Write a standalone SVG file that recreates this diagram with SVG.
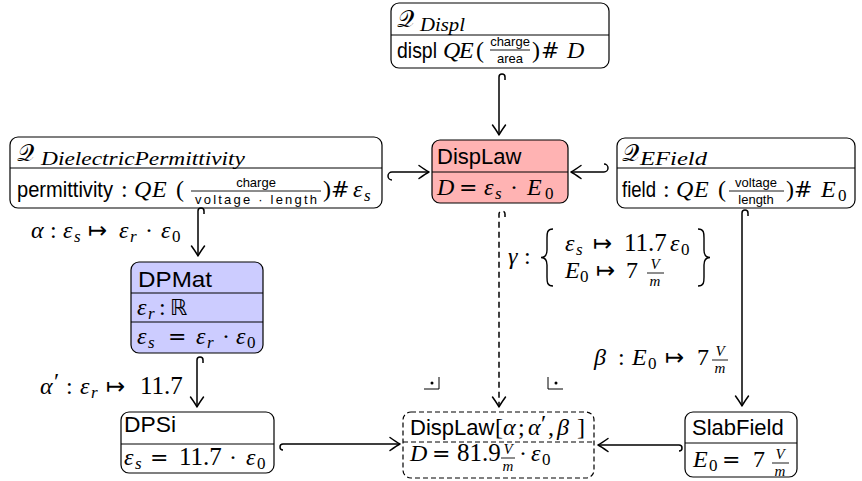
<svg xmlns="http://www.w3.org/2000/svg" width="862" height="481" viewBox="0 0 862 481">
<style>
.bx{fill:#fff;stroke:#000;stroke-width:1.2}
.dv{stroke:#000;stroke-width:1}
.sf{font-family:"Liberation Sans",Arial,sans-serif;font-size:22px}
.fr{font-family:"Liberation Sans",Arial,sans-serif;font-size:13px;text-anchor:middle}
.mi{font-family:"Liberation Serif","Times New Roman",serif;font-style:italic;font-size:24px}
.mr{font-family:"Liberation Serif","Times New Roman",serif;font-size:24px}
.nm{font-family:"Liberation Serif","Times New Roman",serif;font-size:25px}
.si{font-family:"Liberation Serif",serif;font-style:italic;font-size:17px}
.st{font-family:"Liberation Serif",serif;font-style:italic;font-size:18px}
.sr{font-family:"Liberation Serif",serif;font-size:17px}
.fi{font-family:"Liberation Serif",serif;font-style:italic;font-size:15px;text-anchor:middle}
.op{font-family:"DejaVu Sans",sans-serif;font-size:22px}
.mt{font-family:"DejaVu Sans",sans-serif;font-size:23px}
.cal{font-family:"DejaVu Serif","DejaVu Sans","Noto Sans",serif;font-size:24px}
.e{fill:none;stroke:#000;stroke-width:1.5}
.fb{stroke:#000;stroke-width:0.9}
.br{fill:none;stroke:#000;stroke-width:1.4}
</style>
<defs>
<marker id="ah" markerUnits="userSpaceOnUse" markerWidth="16" markerHeight="16" viewBox="-13 -8 16 16" refX="0" refY="0" orient="auto">
<path d="M-10,-6.5 Q-3,-1.5 0,0 Q-3,1.5 -10,6.5" fill="none" stroke="#000" stroke-width="1.5" stroke-linecap="round" stroke-linejoin="round"/>
</marker>
</defs>

<g id="qdispl">
<rect class="bx" x="391" y="3" width="218" height="65" rx="8"/>
<line class="dv" x1="391" y1="35" x2="609" y2="35"/>
<text class="cal" x="397" y="27">𝒬</text>
<text class="st" x="420" y="31" textLength="45" lengthAdjust="spacingAndGlyphs">Displ</text>
<text class="sf" x="397" y="58" textLength="40" lengthAdjust="spacingAndGlyphs">displ</text>
<text class="mi" x="443" y="58">Q</text>
<text class="mi" x="459" y="58">E</text>
<text class="mr" x="476" y="58">(</text>
<text class="fr" x="510" y="46">charge</text>
<line class="fb" x1="490" y1="50" x2="530" y2="50"/>
<text class="fr" x="510" y="63">area</text>
<text class="mr" x="532" y="58">)</text>
<text class="op" x="541" y="58">#</text>
<text class="mi" x="567" y="58">D</text>
</g>

<g id="displaw">
<rect x="432" y="140" width="136" height="63" rx="8" fill="#ffb3b3" stroke="#000" stroke-width="1.2"/>
<line class="dv" x1="432" y1="172" x2="568" y2="172"/>
<text class="sf" x="437" y="164">DispLaw</text>
<text class="mi" x="437" y="195">D</text>
<text class="op" x="459" y="195">=</text>
<text class="mi" x="484" y="195">ε</text>
<text class="si" x="495" y="199">s</text>
<text class="mr" x="510" y="195">·</text>
<text class="mi" x="527" y="195">E</text>
<text class="sr" x="545" y="199">0</text>
</g>

<g id="qdiel">
<rect class="bx" x="10" y="137" width="372" height="71" rx="8"/>
<line class="dv" x1="10" y1="168" x2="382" y2="168"/>
<text class="cal" x="17" y="161">𝒬</text>
<text class="st" x="41" y="165" textLength="204" lengthAdjust="spacingAndGlyphs">DielectricPermittivity</text>
<text class="sf" x="17" y="197" textLength="96" lengthAdjust="spacingAndGlyphs">permittivity</text>
<text class="mr" x="121" y="197">:</text>
<text class="mi" x="134" y="197">Q</text>
<text class="mi" x="152" y="197">E</text>
<text class="mr" x="176" y="197">(</text>
<text class="fr" x="256" y="187" font-size="16">charge</text>
<line class="fb" x1="191" y1="191" x2="321" y2="191"/>
<text class="fr" x="256" y="204" font-size="16" textLength="122" lengthAdjust="spacing">voltage · length</text>
<text class="mr" x="323" y="197">)</text>
<text class="op" x="331" y="197">#</text>
<text class="mi" x="353" y="197">ε</text>
<text class="si" x="364" y="201">s</text>
</g>

<g id="qefield">
<rect class="bx" x="617" y="138" width="238" height="70" rx="8"/>
<line class="dv" x1="617" y1="168" x2="855" y2="168"/>
<text class="cal" x="622" y="161">𝒬</text>
<text class="st" x="640" y="165" textLength="67" lengthAdjust="spacingAndGlyphs">EField</text>
<text class="sf" x="622" y="197" textLength="34" lengthAdjust="spacingAndGlyphs">field</text>
<text class="mr" x="663" y="197">:</text>
<text class="mi" x="676" y="197">Q</text>
<text class="mi" x="694" y="197">E</text>
<text class="mr" x="718" y="197">(</text>
<text class="fr" x="756" y="187" font-size="14">voltage</text>
<line class="fb" x1="729" y1="191" x2="784" y2="191"/>
<text class="fr" x="756" y="204" font-size="14">length</text>
<text class="mr" x="786" y="197">)</text>
<text class="op" x="794" y="197">#</text>
<text class="mi" x="821" y="197">E</text>
<text class="sr" x="838" y="201">0</text>
</g>

<g id="dpmat">
<rect x="131" y="262" width="132" height="91" rx="8" fill="#ccccff" stroke="#000" stroke-width="1.2"/>
<line class="dv" x1="131" y1="293" x2="263" y2="293"/>
<line class="dv" x1="131" y1="322" x2="263" y2="322"/>
<text class="sf" x="138" y="287" textLength="74" lengthAdjust="spacingAndGlyphs">DPMat</text>
<text class="mi" x="137" y="315">ε</text>
<text class="si" x="148" y="319">r</text>
<text class="mr" x="159" y="315">:</text>
<text class="op" x="170" y="315">ℝ</text>
<text class="mi" x="137" y="344">ε</text>
<text class="si" x="148" y="348">s</text>
<text class="op" x="168" y="344">=</text>
<text class="mi" x="196" y="344">ε</text>
<text class="si" x="207" y="348">r</text>
<text class="mr" x="222" y="344">·</text>
<text class="mi" x="236" y="344">ε</text>
<text class="sr" x="247" y="348">0</text>
</g>

<g id="dpsi">
<rect class="bx" x="121" y="412" width="153" height="61" rx="8"/>
<line class="dv" x1="121" y1="444" x2="274" y2="444"/>
<text class="sf" x="124" y="432" textLength="52" lengthAdjust="spacingAndGlyphs">DPSi</text>
<text class="mi" x="124" y="465">ε</text>
<text class="si" x="135" y="469">s</text>
<text class="op" x="150" y="465">=</text>
<text class="nm" x="179" y="465">11.7</text>
<text class="mr" x="229" y="465">·</text>
<text class="mi" x="246" y="465">ε</text>
<text class="sr" x="257" y="469">0</text>
</g>

<g id="displaw-pushout">
<rect x="403" y="412" width="191" height="66" rx="8" fill="#fff" stroke="#000" stroke-width="1.2" stroke-dasharray="5,3"/>
<line x1="403" y1="442" x2="594" y2="442" stroke="#000" stroke-width="1" stroke-dasharray="5,3"/>
<text class="sf" x="410" y="435">DispLaw</text>
<text class="mr" x="495" y="435">[</text>
<text class="mi" x="503" y="435">α</text>
<text class="mr" x="518" y="435">;</text>
<text class="mi" x="528" y="435">α</text>
<text class="mr" x="541" y="431" font-size="18">′</text>
<text class="mr" x="548" y="435">,</text>
<text class="mi" x="557" y="435">β</text>
<text class="mr" x="577" y="435">]</text>
<text class="mi" x="410" y="461">D</text>
<text class="op" x="432" y="461">=</text>
<text class="nm" x="457" y="461">81.9</text>
<text class="fi" x="508" y="454">V</text>
<line class="fb" x1="501" y1="458" x2="515" y2="458"/>
<text class="fi" x="508" y="471">m</text>
<text class="mr" x="519" y="461">·</text>
<text class="mi" x="531" y="461">ε</text>
<text class="sr" x="542" y="465">0</text>
</g>

<g id="slabfield">
<rect class="bx" x="685" y="412" width="112" height="65" rx="8"/>
<line class="dv" x1="685" y1="443" x2="797" y2="443"/>
<text class="sf" x="692" y="435">SlabField</text>
<text class="mi" x="693" y="467">E</text>
<text class="sr" x="709" y="471">0</text>
<text class="op" x="722" y="467">=</text>
<text class="mr" x="753" y="467">7</text>
<text class="fi" x="780" y="459">V</text>
<line class="fb" x1="772" y1="463" x2="789" y2="463"/>
<text class="fi" x="780" y="476">m</text>
</g>

<g id="edges">
<path class="e" d="M505,80 V77 A3,3 0 0 0 499,77 V135" marker-end="url(#ah)"/>
<path class="e" d="M392,180 A4,4 0 0 1 392,172 H429" marker-end="url(#ah)"/>
<path class="e" d="M604,164 A4,4 0 0 1 604,172 H571" marker-end="url(#ah)"/>
<path class="e" d="M204,214 V211 A3,3 0 0 0 198,211 V256" marker-end="url(#ah)"/>
<path class="e" d="M203,363 V360 A3,3 0 0 0 197,360 V407" marker-end="url(#ah)"/>
<path class="e" d="M505,217 V214 A3,3 0 0 0 499,214 V407" stroke-dasharray="6,4" marker-end="url(#ah)"/>
<path class="e" d="M748,216 V213 A3,3 0 0 0 742,213 V406" marker-end="url(#ah)"/>
<path class="e" d="M283,450 A3,3 0 0 1 283,444 H400" marker-end="url(#ah)"/>
<path class="e" d="M679,451 A3,3 0 0 0 679,445 H598" marker-end="url(#ah)"/>
</g>

<g id="labels">
<text class="mi" x="31" y="238">α</text>
<text class="mr" x="50" y="238">:</text>
<text class="mi" x="63" y="238">ε</text>
<text class="si" x="74" y="242">s</text>
<text class="mt" x="88" y="238">↦</text>
<text class="mi" x="119" y="238">ε</text>
<text class="si" x="130" y="242">r</text>
<text class="mr" x="145" y="238">·</text>
<text class="mi" x="161" y="238">ε</text>
<text class="sr" x="172" y="242">0</text>

<text class="mi" x="40" y="394">α</text>
<text class="mr" x="54" y="389" font-size="18">′</text>
<text class="mr" x="66" y="394">:</text>
<text class="mi" x="80" y="394">ε</text>
<text class="si" x="91" y="398">r</text>
<text class="mt" x="106" y="394">↦</text>
<text class="nm" x="140" y="394">11.7</text>

<text class="mi" x="508" y="264">γ</text>
<text class="mr" x="524" y="264">:</text>
<path class="br" d="M553,229 C547,229 547,233 547,238 L547,250 C547,255 545,257.5 541,257.5 C545,257.5 547,260 547,265 L547,277 C547,282 547,286 553,286"/>
<path class="br" d="M698,229 C704,229 704,233 704,238 L704,250 C704,255 706,257.5 710,257.5 C706,257.5 704,260 704,265 L704,277 C704,282 704,286 698,286"/>
<text class="mi" x="565" y="251">ε</text>
<text class="si" x="576" y="255">s</text>
<text class="mt" x="593" y="251">↦</text>
<text class="nm" x="624" y="251">11.7</text>
<text class="mi" x="670" y="251">ε</text>
<text class="sr" x="681" y="255">0</text>
<text class="mi" x="565" y="278">E</text>
<text class="sr" x="580" y="282">0</text>
<text class="mt" x="596" y="278">↦</text>
<text class="mr" x="626" y="278">7</text>
<text class="fi" x="655" y="269">V</text>
<line class="fb" x1="647" y1="273" x2="664" y2="273"/>
<text class="fi" x="655" y="286">m</text>

<text class="mi" x="594" y="365">β</text>
<text class="mr" x="618" y="365">:</text>
<text class="mi" x="632" y="365">E</text>
<text class="sr" x="648" y="369">0</text>
<text class="mt" x="665" y="365">↦</text>
<text class="mr" x="697" y="365">7</text>
<text class="fi" x="720" y="356">V</text>
<line class="fb" x1="712" y1="360" x2="728" y2="360"/>
<text class="fi" x="720" y="373">m</text>
</g>

<g id="pullback-marks">
<path d="M424,389 H439 V377" fill="none" stroke="#000" stroke-width="1"/>
<circle cx="432" cy="383" r="1.5"/>
<path d="M548,377 V389 H563" fill="none" stroke="#000" stroke-width="1"/>
<circle cx="556" cy="383" r="1.5"/>
</g>
</svg>
